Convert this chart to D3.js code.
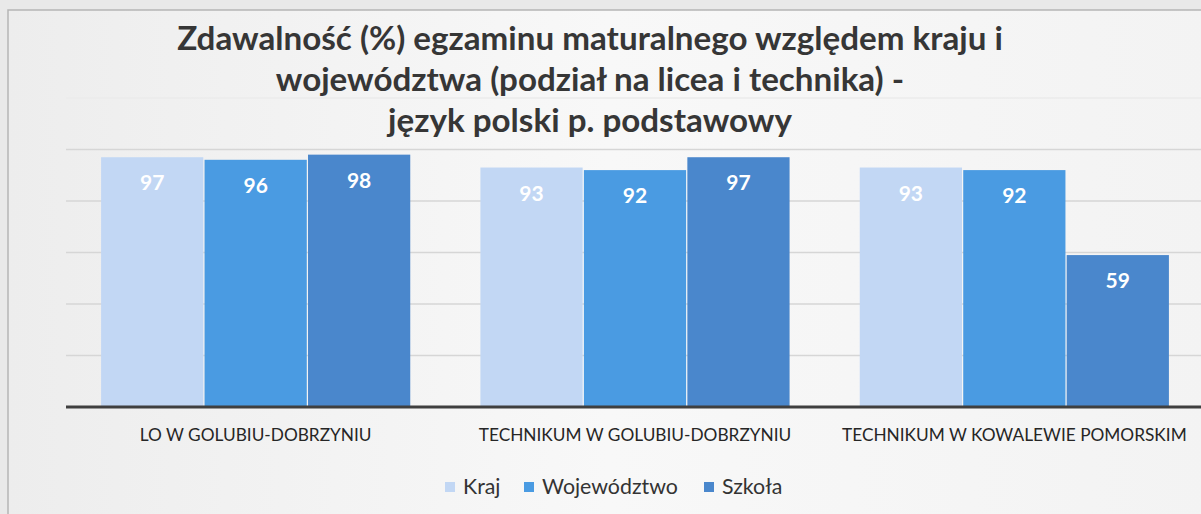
<!DOCTYPE html>
<html>
<head>
<meta charset="utf-8">
<script src="https://cdn.jsdelivr.net/npm/d3@7"></script>
<style>
  body { margin: 0; background: #ececec; }
  svg { display: block; }
</style>
</head>
<body>
<div id="chart"></div>
<script>
let categories = ["LO W GOLUBIU-DOBRZYNIU", "TECHNIKUM W GOLUBIU-DOBRZYNIU", "TECHNIKUM W KOWALEWIE POMORSKIM"]
let seriesNames = ["Kraj", "Województwo", "Szkoła"]
let kraj = [97, 93, 93]
let wojewodztwo = [96, 92, 92]
let szkola = [98, 97, 59]
let yTicks = [0, 20, 40, 60, 80, 100, 120]
let titleLines = [
  "Zdawalność (%) egzaminu maturalnego względem kraju i",
  "województwa (podział na licea i technika) -",
  "język polski p. podstawowy"
]

let colors = ["#c2d7f4", "#4a9be2", "#4a87cc"]
let values = [kraj, wojewodztwo, szkola]

let width = 1201, height = 514

let svg = d3.select("#chart")
  .append("svg")
  .attr("width", width)
  .attr("height", height)

// paper background, a bit darker on the left like the scan
let grad = svg.append("defs").append("linearGradient")
  .attr("id", "paper")
  .attr("x1", "0%").attr("x2", "100%")
grad.append("stop").attr("offset", "0%").attr("stop-color", "#ededed")
grad.append("stop").attr("offset", "50%").attr("stop-color", "#f8f8f8")
grad.append("stop").attr("offset", "100%").attr("stop-color", "#f3f3f3")

svg.append("rect")
  .attr("width", width).attr("height", height)
  .attr("fill", "#e9e9e9")
svg.append("rect")
  .attr("x", 8).attr("y", 10)
  .attr("width", width).attr("height", height)
  .attr("fill", "url(#paper)")
  .attr("stroke", "#b5b5b5")
  .attr("stroke-width", 1.5)

let y = d3.scaleLinear().domain([0, 120]).range([407, 98])

let x0 = d3.scaleBand()
  .domain(categories)
  .range([66, 1204])
  .paddingInner(0.185)
  .paddingOuter(0.0925)

let x1 = d3.scaleBand()
  .domain(seriesNames)
  .range([0, x0.bandwidth()])
  .paddingInner(0.012)

// gridlines (top one is barely visible in the scan)
svg.append("g")
  .selectAll("line")
  .data(yTicks.slice(1))
  .join("line")
  .attr("x1", 66).attr("x2", width)
  .attr("y1", d => y(d)).attr("y2", d => y(d))
  .attr("stroke", d => d == 120 ? "#ebebeb" : "#d6d6d6")
  .attr("stroke-width", 1.5)

// title
let title = svg.append("g")
  .attr("font-family", "Lato, 'Open Sans', sans-serif")
  .attr("font-weight", "bold")
  .attr("fill", "#363636")
  .attr("text-anchor", "middle")

let tl = title.selectAll("text")
  .data(titleLines)
  .join("text")
  .attr("x", 590)
  .attr("y", (d, i) => 50 + i * 41)
  .attr("font-size", 32)
  .text(d => d)
// fit the first line to its width in the picture
let w0 = tl.node().getComputedTextLength()
tl.attr("font-size", 32 * 826 / w0)

// bars
let groups = svg.append("g")
  .selectAll("g")
  .data(categories)
  .join("g")
  .attr("transform", d => `translate(${x0(d)},0)`)

groups.selectAll("rect")
  .data((d, ci) => seriesNames.map((s, si) => ({ s, v: values[si][ci], si })))
  .join("rect")
  .attr("x", d => x1(d.s))
  .attr("width", x1.bandwidth())
  .attr("y", d => y(d.v))
  .attr("height", d => y(0) - y(d.v))
  .attr("fill", d => colors[d.si])

groups.selectAll("text")
  .data((d, ci) => seriesNames.map((s, si) => ({ s, v: values[si][ci], si })))
  .join("text")
  .attr("x", d => x1(d.s) + x1.bandwidth() / 2)
  .attr("y", d => y(d.v) + 33)
  .attr("text-anchor", "middle")
  .attr("font-family", "Lato, 'Open Sans', sans-serif")
  .attr("font-weight", "bold")
  .attr("font-size", 21)
  .attr("fill", "#ffffff")
  .text(d => d.v)

// baseline
svg.append("line")
  .attr("x1", 66).attr("x2", width)
  .attr("y1", y(0)).attr("y2", y(0))
  .attr("stroke", "#3f3f3f")
  .attr("stroke-width", 3)

// category labels
let cl = svg.append("g")
  .selectAll("text")
  .data(categories)
  .join("text")
  .attr("x", d => x0(d) + x0.bandwidth() / 2)
  .attr("y", 441)
  .attr("text-anchor", "middle")
  .attr("font-family", "Lato, 'Open Sans', sans-serif")
  .attr("font-size", 16)
  .attr("fill", "#262626")
  .text(d => d)
let cw = cl.node().getComputedTextLength()
cl.attr("font-size", 16 * 232 / cw)

// legend
let legendX = [445, 524, 704]
let legend = svg.append("g")
  .selectAll("g")
  .data(seriesNames)
  .join("g")
  .attr("transform", (d, i) => `translate(${legendX[i]},482)`)

legend.append("rect")
  .attr("width", 10).attr("height", 10)
  .attr("fill", (d, i) => colors[i])

let lt = legend.append("text")
  .attr("x", 18)
  .attr("y", 12)
  .attr("font-family", "Lato, 'Open Sans', sans-serif")
  .attr("font-size", 18)
  .attr("fill", "#333333")
  .text(d => d)
// fit "Województwo" to its width in the picture
let lw = lt.filter((d, i) => i == 1).node().getComputedTextLength()
lt.attr("font-size", 18 * 136 / lw)
</script>
</body>
</html>
